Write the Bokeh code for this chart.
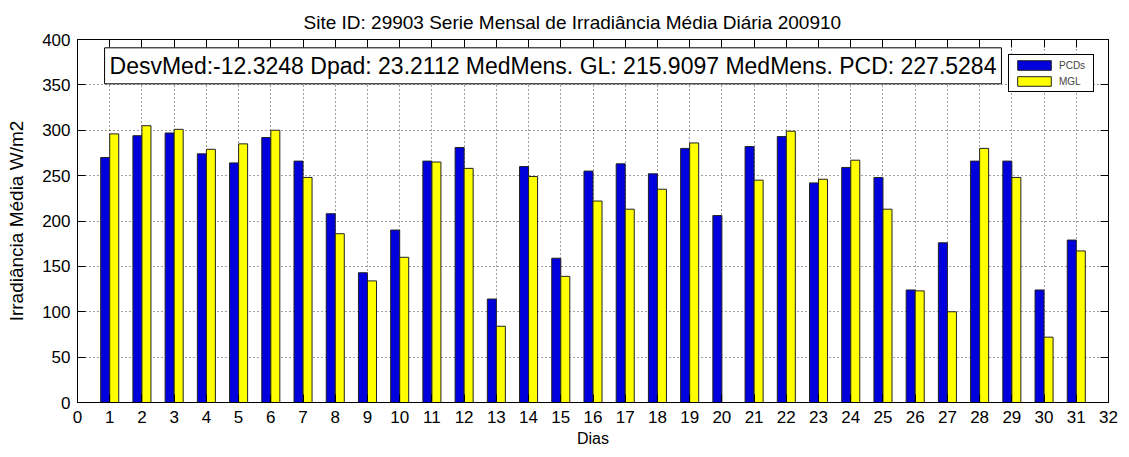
from bokeh.plotting import figure
from bokeh.models import (LinearAxis, SingleIntervalTicker, Label, Legend, LegendItem,
                          ColumnDataSource, Range1d, CustomJSTickFormatter)
from bokeh.transform import dodge
from bokeh.embed import file_html
from bokeh.resources import INLINE

days = list(range(1, 32))
pcd = [270, 294, 297, 274, 264, 292, 266, 208, 143, 190,
       266, 281, 114, 260, 159, 255, 263, 252, 280, 206,
       282, 293, 242, 259, 248, 124, 176, 266, 266, 124, 179]
mgl = [296, 305, 301, 279, 285, 300, 248, 186, 134, 160,
       265, 258, 84, 249, 139, 222, 213, 235, 286, 0,
       245, 299, 246, 267, 213, 123, 100, 280, 248, 72, 167]

title_text = "Site ID: 29903 Serie Mensal de Irradiância Média Diária 200910"
stats_text = "DesvMed:-12.3248 Dpad: 23.2112 MedMens. GL: 215.9097 MedMens. PCD: 227.5284"
x_label = "Dias"
y_label = "Irradiância Média W/m2"
series_names = ["PCDs", "MGL"]

FONT = "Liberation Sans"

src = ColumnDataSource(dict(day=days, pcd=pcd, mgl=mgl))

p = figure(width=1121, height=449, output_backend="svg", toolbar_location=None,
           x_range=Range1d(0, 32), y_range=Range1d(0, 400),
           min_border_left=77, min_border_right=13, min_border_top=39, min_border_bottom=47)

p.title.text = title_text
p.title.align = "left"
p.title.offset = 226
p.title.text_font = FONT
p.title.text_font_size = "19px"
p.title.text_font_style = "normal"
p.title.text_color = "#000000"
p.title.standoff = 14

blue = p.vbar(x=dodge("day", -0.14, range=p.x_range), top="pcd", width=0.28, source=src,
              fill_color="#0000DD", line_color="#222222", line_width=1)
yellow = p.vbar(x=dodge("day", 0.14, range=p.x_range), top="mgl", width=0.28, source=src,
                fill_color="#FFFF00", line_color="#222222", line_width=1)

xt = SingleIntervalTicker(interval=1)
yt = SingleIntervalTicker(interval=50)
p.xaxis.ticker = xt
p.yaxis.ticker = yt

for ax in (p.xaxis[0], p.yaxis[0]):
    ax.major_tick_in = 8
    ax.major_tick_out = 0
    ax.minor_tick_in = 0
    ax.minor_tick_out = 0
    ax.major_label_text_font = FONT
    ax.major_label_text_font_size = "17px"
    ax.major_label_text_color = "#000000"
    ax.axis_line_color = "#000000"
    ax.major_tick_line_color = "#000000"
    ax.axis_label_text_font = FONT
    ax.axis_label_text_font_style = "normal"
    ax.axis_label_text_color = "#000000"

p.xaxis.axis_label = x_label
p.yaxis.axis_label = y_label
p.xaxis.axis_label_text_font_size = "16px"
p.yaxis.axis_label_text_font_size = "19px"
p.xaxis.major_label_standoff = 8
p.yaxis.major_label_standoff = 7
p.xaxis.axis_label_standoff = 4
p.yaxis.axis_label_standoff = 12

blank = CustomJSTickFormatter(code="return ''")
top_ax = LinearAxis(ticker=SingleIntervalTicker(interval=1), formatter=blank,
                    major_tick_in=8, major_tick_out=0, minor_tick_in=0, minor_tick_out=0,
                    major_label_standoff=0,
                    axis_line_color="#000000", major_tick_line_color="#000000")
right_ax = LinearAxis(ticker=SingleIntervalTicker(interval=50), formatter=blank,
                      major_tick_in=8, major_tick_out=0, minor_tick_in=0, minor_tick_out=0,
                      major_label_standoff=0,
                      axis_line_color="#000000", major_tick_line_color="#000000")
p.add_layout(top_ax, "above")
p.add_layout(right_ax, "right")

p.xgrid.ticker = xt
p.ygrid.ticker = yt
for g in (p.xgrid[0], p.ygrid[0]):
    g.grid_line_color = "#000000"
    g.grid_line_dash = "1 3"
    g.grid_line_alpha = 0.75

p.outline_line_color = "#000000"
p.outline_line_alpha = 1
p.background_fill_color = "#FFFFFF"

stats = Label(x=0.84, y=371, text=stats_text, text_font=FONT, text_font_size="23px",
              text_baseline="middle", text_align="left", text_color="#000000",
              background_fill_color="#FFFFFF", border_line_color="#000000", border_line_width=1,
              padding=5)
p.add_layout(stats)

legend = Legend(items=[LegendItem(label=series_names[0], renderers=[blue]),
                       LegendItem(label=series_names[1], renderers=[yellow])],
                location=(931, 310), glyph_width=42, glyph_height=12, label_height=12,
                label_width=30, spacing=4, padding=4, label_standoff=4,
                label_text_font=FONT, label_text_font_size="10px",
                border_line_color="#000000", border_line_alpha=1, background_fill_alpha=1)
p.add_layout(legend)

open("out.html", "w").write(file_html(p, INLINE))
